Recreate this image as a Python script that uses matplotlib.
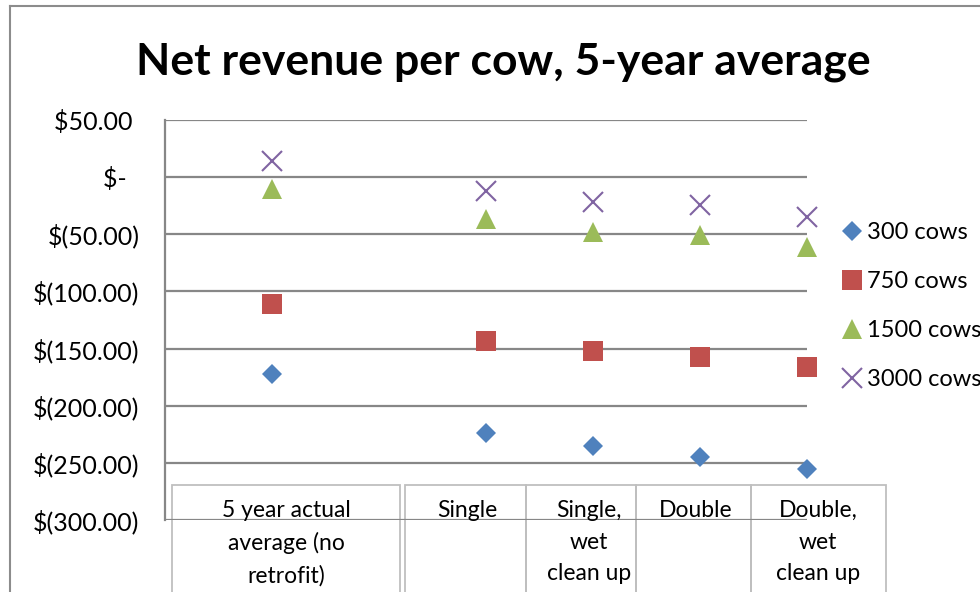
import numpy as np
import matplotlib
matplotlib.use("Agg")
import matplotlib.pyplot as plt
from matplotlib.patches import Rectangle
from matplotlib.lines import Line2D

plt.rcParams['font.family'] = ['Lato', 'DejaVu Sans']

# data (NaN = empty category slot)
cat_x = [1, 2, 3, 4, 5, 6]
cows_300 = [-172, np.nan, -224, -235, -245, -255]
cows_750 = [-111, np.nan, -143, -152, -157, -166]
cows_1500 = [-10, np.nan, -37, -48, -51, -61]
cows_3000 = [14, np.nan, -12, -22, -24, -35]

y_ticks = [50, 0, -50, -100, -150, -200, -250, -300]
y_labels = ['$50.00 ', '$-  ', '$(50.00)', '$(100.00)', '$(150.00)',
            '$(200.00)', '$(250.00)', '$(300.00)']

# the label table pasted under the chart
box_labels = ['5 year actual\naverage (no\nretrofit)', 'Single',
              'Single,\nwet\nclean up', 'Double', 'Double,\nwet\nclean up']
box_edges_px = [(172, 400), (405, 526), (526, 636), (636, 751), (751, 886)]
box_text_px = [286, 467, 589, 696, 818]

W, H = 980, 592
fig = plt.figure(figsize=(W / 100, H / 100), dpi=100)
ax = fig.add_axes([165 / W, 1 - 520 / H, 642 / W, 400 / H])
ax.set_facecolor('none')

grid_col = '#878787'
ax.set_xlim(0, 6)
ax.set_ylim(-300, 50)
ax.set_yticks(y_ticks)
ax.set_yticklabels(y_labels, fontsize=18)
ax.tick_params(axis='y', length=0, pad=18.5)
ax.set_xticks([])
ax.grid(axis='y', color=grid_col, linewidth=1.6, zorder=1.5)
ax.set_axisbelow(True)
for s in ['top', 'right', 'bottom']:
    ax.spines[s].set_visible(False)
ax.spines['left'].set_color(grid_col)
ax.spines['left'].set_linewidth(1.6)

ax.plot(cat_x, cows_300, 'D', color='#4F81BD', markersize=10.6, markeredgewidth=0,
        label='300 cows', clip_on=False, zorder=3)
ax.plot(cat_x, cows_750, 's', color='#C0504D', markersize=14.4, markeredgewidth=0,
        label='750 cows', clip_on=False, zorder=3)
ax.plot(cat_x, cows_1500, '^', color='#9BBB59', markersize=14.4, markeredgewidth=0,
        label='1500 cows', clip_on=False, zorder=3)
ax.plot(cat_x, cows_3000, 'x', color='#8064A2', markersize=14.4, markeredgewidth=1.5,
        label='3000 cows', clip_on=False, zorder=3)

# boxes and labels of the table
for (x0, x1), tx, lab in zip(box_edges_px, box_text_px, box_labels):
    ax.add_patch(Rectangle((x0 / W, 1 - 620 / H), (x1 - x0) / W, 135 / H,
                           transform=fig.transFigure, fill=False, edgecolor='#BFBFBF',
                           linewidth=1.3, clip_on=False, zorder=0.5))
    ax.text(tx / W, 1 - 500 / H, lab, transform=fig.transFigure, ha='center', va='top',
            fontsize=16.5, linespacing=1.62, clip_on=False, zorder=0.6)

ax.legend(loc='center left', bbox_to_anchor=(840 / W, 1 - 306 / H),
          bbox_transform=fig.transFigure, frameon=False, fontsize=17,
          handlelength=1.0, handletextpad=0.15, labelspacing=1.18, borderpad=0,
          borderaxespad=0)

# title
fig.text(503 / W, 1 - 75 / H, 'Net revenue per cow, 5-year average', ha='center',
         va='baseline', fontsize=32, fontweight='bold')

# outer chart border
fig.add_artist(Line2D([10 / W, 10 / W], [0, 1 - 6 / H], color='#8C8C8C', linewidth=1.5))
fig.add_artist(Line2D([10 / W, 1], [1 - 6 / H, 1 - 6 / H], color='#8C8C8C', linewidth=1.5))

fig.savefig('out.png', dpi=100)
